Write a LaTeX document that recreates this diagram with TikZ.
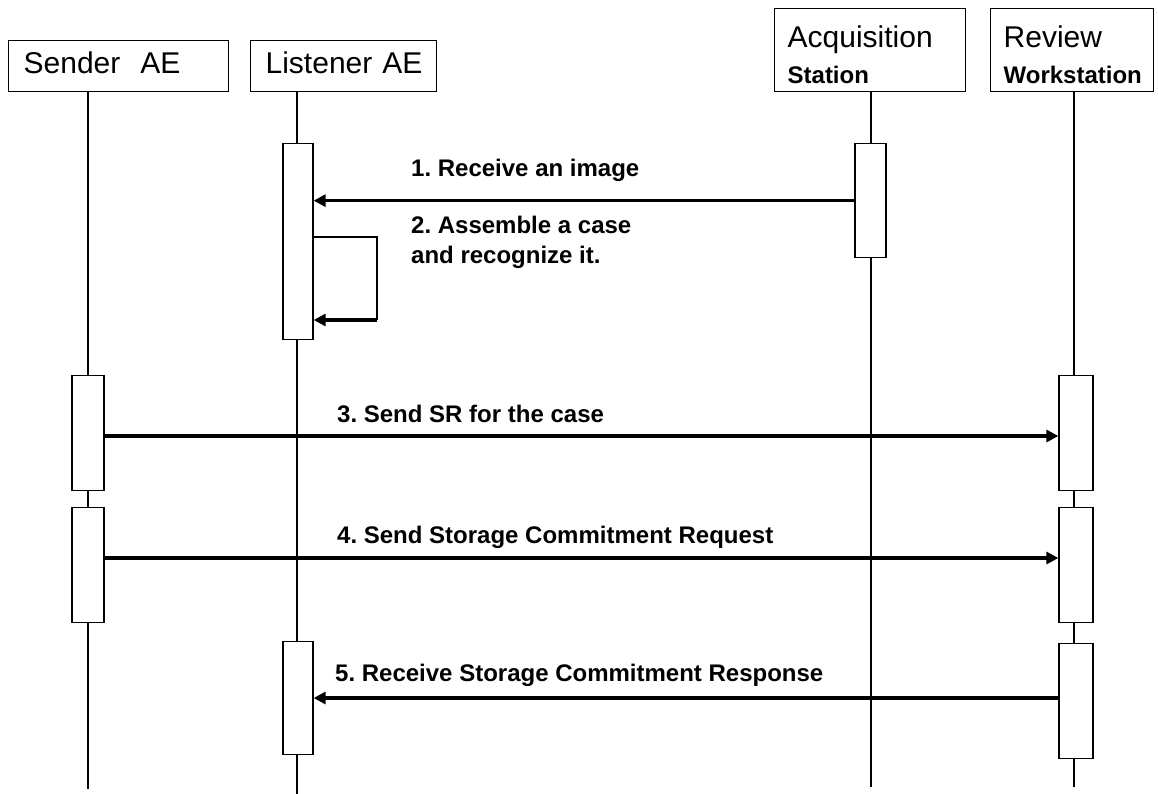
\documentclass[tikz,border=0pt]{standalone}
\usepackage{fontspec}
\setmainfont{Liberation Sans}
\frenchspacing
\usetikzlibrary{arrows.meta,calc}
\tikzstyle{actor}=[draw,line width=1.3pt,rectangle,anchor=north west,align=left,inner xsep=15pt,inner ysep=0pt,font=\fontsize{30}{36}\selectfont]
\tikzstyle{lifeline}=[line width=1.3pt]
\tikzstyle{activation}=[draw,fill=white,line width=1.3pt,rectangle,inner sep=0pt,anchor=north]
\tikzstyle{message}=[line width=3.5pt,-{Triangle[length=12pt,width=12pt]}]
\tikzstyle{msglabel}=[anchor=base west,inner sep=0pt,align=left,font=\fontsize{24}{30}\selectfont\bfseries]
\newcommand{\activation}[5]{% Syntax: {name}{left}{right}{top}{bottom}
	\node[activation,minimum width=#3-#2,minimum height=#5-#4] (#1) at ({(#2+#3)/2},#4) {};
}
\newcommand{\smallbold}{\fontsize{24}{24}\selectfont\bfseries}

\begin{document}
\begin{tikzpicture}[x=1pt,y=-1pt]
	\fill[white] (0,0) rectangle (1158,794);
	\useasboundingbox (0,0) rectangle (1158,794);
	% the four participants
	\node[actor,text width=190pt,minimum height=51pt] (sender) at (8,40) {Sender\ \ AE\rule[-7pt]{0pt}{7pt}};
	\node[actor,text width=156pt,minimum height=51pt] (listener) at (250,40) {Listener~AE\rule[-7pt]{0pt}{7pt}};
	\node[actor,text width=165pt,minimum height=83pt,inner xsep=13pt] (acq) at (774,8) {\rule{0pt}{31pt}Acquisition\\{\smallbold Station}};
	\node[actor,text width=137pt,minimum height=83pt,inner xsep=13pt] (review) at (990,8) {\rule{0pt}{31pt}Review\\{\smallbold Workstation}};
	% lifelines
	\coordinate (sender end) at (88,789);
	\coordinate (listener end) at (297,794);
	\coordinate (acq end) at (871,787);
	\coordinate (review end) at (1074,787);
	\draw[lifeline] (sender end |- sender.south) -- (sender end);
	\draw[lifeline] (listener end |- listener.south) -- (listener end);
	\draw[lifeline] (acq end |- acq.south) -- (acq end);
	\draw[lifeline] (review end |- review.south) -- (review end);
	% activation boxes
	\activation{listact1}{283}{313}{143}{339}
	\activation{acqact}{855}{886}{143}{257}
	\activation{sendact3}{72}{104}{375}{490}
	\activation{sendact4}{72}{104}{507}{622}
	\activation{revact3}{1059}{1093}{375}{490}
	\activation{revact4}{1059}{1093}{507}{622}
	\activation{revact5}{1059}{1093}{643}{758}
	\activation{listact5}{283}{313}{641}{754}
	% messages
	\draw[message] (acqact.west) -- (listact1.east |- acqact.west);
	\node[msglabel] (lbl1) at (411,177) {1. Receive an image};
	\coordinate (loop top) at (377,237);
	\coordinate (loop bot) at (377,320);
	\draw[lifeline] (listact1.east |- loop top) -- (loop top) -- (loop bot);
	\draw[message] (loop bot) -- (listact1.east |- loop bot);
	\node[msglabel] (lbl2) at (411,263) {2. Assemble a case\\and recognize it.};
	\draw[message] (sendact3.east |- 0,436) -- (revact3.west |- 0,436);
	\node[msglabel] (lbl3) at (337,422) {3. Send SR for the case};
	\draw[message] (sendact4.east |- 0,558) -- (revact4.west |- 0,558);
	\node[msglabel] (lbl4) at (337,543) {4. Send Storage Commitment Request};
	\draw[message] (revact5.west |- 0,698) -- (listact5.east |- 0,698);
	\node[msglabel] (lbl5) at (335,681) {5. Receive Storage Commitment Response};
\end{tikzpicture}
\end{document}
